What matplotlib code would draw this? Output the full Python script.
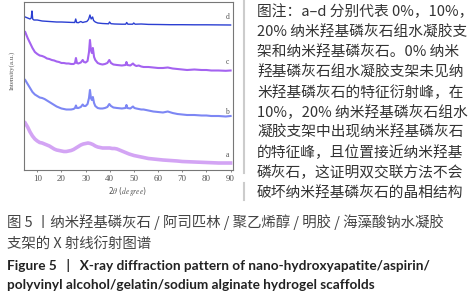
import numpy as np
import matplotlib
matplotlib.use("Agg")
import matplotlib.pyplot as plt
from matplotlib.lines import Line2D

plt.rcParams['mathtext.fontset'] = 'stix'

# Datos (intensidad en unidades arbitrarias)
x_d = [5, 6, 7, 7.5, 7.8, 8.1, 8.6, 10, 12, 15, 18, 20, 22, 24, 25.5, 25.9, 26.3, 27, 28, 28.8,
       29.5, 30.5, 31.2, 31.8, 32.3, 32.9, 33.3, 34, 35, 37, 39.5, 39.9, 40.5, 42, 45, 46.6, 47,
       47.5, 49.5, 49.9, 50.5, 53, 56, 60, 65, 70, 75, 80, 85, 90]
y_d = [153, 152, 151, 152, 159, 151, 150, 150, 149, 148.5, 148, 148, 147.8, 147.6, 147.5, 151,
       147.5, 147.3, 148.5, 147.5, 148, 148.5, 150.5, 155, 151, 153, 149.5, 148, 147, 146.5,
       146.2, 148, 146.3, 146, 145.8, 145.8, 147.5, 145.8, 145.8, 147, 145.8, 146, 145.6, 145.5,
       145.3, 145.3, 145.2, 145.2, 145.1, 145.0]

x_cb = [5, 6, 7, 8, 9, 10, 11, 12, 13, 14, 15, 16, 17, 18, 19, 20, 21, 22, 23, 24, 25, 25.6, 26,
        26.4, 27, 28, 28.8, 29.3, 30, 30.8, 31.4, 31.8, 32.2, 32.6, 33, 33.5, 34, 35, 36, 37, 38,
        39, 39.8, 40.5, 41.5, 43, 45, 46.5, 46.9, 47.3, 48.5, 49.6, 50.2, 51, 52, 53, 54, 56, 58,
        60, 62, 64, 66, 68, 70, 72, 75, 78, 80, 82, 85, 88, 90]
y_c = [138, 132, 127, 122, 118, 116, 114.5, 114, 113, 111.5, 111, 110, 109.5, 108.5, 108, 107,
       107, 106.5, 106.5, 106, 106, 107, 112, 107, 106.5, 107.5, 110, 108, 107.5, 109, 118, 130,
       120, 117, 122, 113, 110, 107, 106, 105.5, 106, 107, 110, 107, 105.5, 105, 104.5, 105, 108,
       105, 104.5, 106.5, 105, 104, 104.5, 103.5, 103, 103, 102.5, 102, 102, 102.5, 101.5, 101,
       100.5, 100, 100.5, 100, 100, 99.5, 99.5, 99.2, 99.5]
y_b = [90, 86, 82, 78, 75.5, 74, 72.5, 72, 71, 69.5, 68, 66.5, 65, 63.5, 62.5, 61.5, 61, 60.5,
       60.5, 60.5, 61, 62, 64.5, 62, 62, 63, 65.5, 64, 64, 66, 72, 80, 72, 70, 73, 67, 64, 62,
       61.5, 61.5, 62, 63, 66, 64, 62.5, 62, 61.5, 62, 65, 62, 61.5, 63.5, 62, 61.5, 61, 60.5,
       60.5, 59.5, 58.5, 58, 57.5, 58.5, 57, 56, 55.5, 55, 55, 54.5, 54.5, 54, 54, 53.5, 54]

x_a = [5, 6, 7, 8, 9, 10, 11, 12, 13, 14, 15, 16, 17, 18, 19, 20, 21, 22, 23, 24, 25, 26, 27, 28,
       29, 30, 31, 32, 33, 34, 35, 36, 37, 38, 39, 40, 41, 42, 43, 44, 45, 46, 47, 48, 50, 52, 54,
       56, 58, 60, 62, 65, 68, 70, 75, 80, 85, 90]
y_a = [47, 43, 38, 34, 31, 29, 27.5, 27, 26, 25, 24, 22.5, 21, 20, 19.5, 19, 18.5, 18.5, 19,
       19.5, 20.5, 22, 23.5, 25, 26, 26.5, 27, 26.5, 25.5, 24, 23, 22.5, 22, 22, 22, 22, 21.5,
       21.5, 21, 20, 19, 18, 17, 16, 14.5, 13.5, 12.5, 11.5, 11, 10.5, 10, 9.5, 9, 8.5, 8, 7.5,
       7, 7]

series = [
    ("d", x_d, y_d, "#2b3fd2", 1.0, 153),
    ("c", x_cb, y_c, "#a463f0", 1.5, 108),
    ("b", x_cb, y_b, "#7d87f4", 1.5, 58),
    ("a", x_a, y_a, "#d3a4f4", 2.6, 15),
]
xticks = [10, 20, 30, 40, 50, 60, 70, 80, 90]

W, H = 474, 300
fig = plt.figure(figsize=(W / 100, H / 100), dpi=100)
fig.patch.set_facecolor("white")

ax = fig.add_axes([24 / W, 1 - 170 / H, (233 - 24) / W, (170 - 2) / H])
for name, xs, ys, col, lw, ly in series:
    ax.plot(xs, ys, color=col, lw=lw, solid_joinstyle="round")
    ax.text(88.6, ly, name, fontsize=5.5, color="#555555", family="Liberation Serif",
            ha="center", va="center")

ax.set_xlim(4.5, 91)
ax.set_ylim(0, 168)
ax.set_xticks(xticks)
ax.set_yticks([])
ax.tick_params(axis="x", length=1.5, width=0.5, pad=2, labelsize=6.5,
               colors="#555555")
for lab in ax.get_xticklabels():
    lab.set_family("Liberation Serif")
for s in ax.spines.values():
    s.set_color("#777777")
    s.set_linewidth(0.8)

fig.text(128 / W, 1 - 192 / H, r"2$\theta$ ($\it{degree}$)", fontsize=5.5, color="#555555",
         ha="center", va="center")
fig.text(12 / W, 1 - 70 / H, "Intensity(a.u.)", fontsize=5, color="#555555",
         family="Liberation Serif", rotation=90, ha="center", va="center")

# linea gris a la izquierda de la nota
fig.add_artist(Line2D([244 / W, 244 / W], [1, 1 - 173 / H], color="#cccccc", lw=1.5))
fig.add_artist(Line2D([244 / W, 244 / W], [1 - 183 / H, 1 - 200 / H], color="#cccccc", lw=1.5))

cjk = ["Noto Sans CJK SC", "DejaVu Sans"]
nota = [
    "图注：a–d 分别代表 0%，10%，",
    "20% 纳米羟基磷灰石组水凝胶支",
    "架和纳米羟基磷灰石。0% 纳米",
    "羟基磷灰石组水凝胶支架未见纳",
    "米羟基磷灰石的特征衍射峰，在",
    "10%，20% 纳米羟基磷灰石组水",
    "凝胶支架中出现纳米羟基磷灰石",
    "的特征峰，且位置接近纳米羟基",
    "磷灰石，这证明双交联方法不会",
    "破坏纳米羟基磷灰石的晶相结构",
]
for i, t in enumerate(nota):
    fig.text(257 / W, 1 - (12 + 20.1 * i) / H, t, fontsize=10.6, color="#333333",
             family=cjk, ha="left", va="center")

fig.text(7 / W, 1 - 222 / H, "图 5 丨纳米羟基磷灰石 / 阿司匹林 / 聚乙烯醇 / 明胶 / 海藻酸钠水凝胶",
         fontsize=10.4, color="#444444", family=cjk, ha="left", va="center")
fig.text(7 / W, 1 - 244 / H, "支架的 X 射线衍射图谱", fontsize=10.4, color="#444444",
         family=cjk, ha="left", va="center")
fig.text(7 / W, 1 - 265 / H,
         "Figure 5   |   X-ray diffraction pattern of nano-hydroxyapatite/aspirin/",
         fontsize=9.8, color="#222222", family="Lato", weight="bold", ha="left", va="center")
fig.text(7 / W, 1 - 285 / H, "polyvinyl alcohol/gelatin/sodium alginate hydrogel scaffolds",
         fontsize=9.8, color="#222222", family="Lato", weight="bold", ha="left", va="center")

fig.savefig("out.png", dpi=100)
